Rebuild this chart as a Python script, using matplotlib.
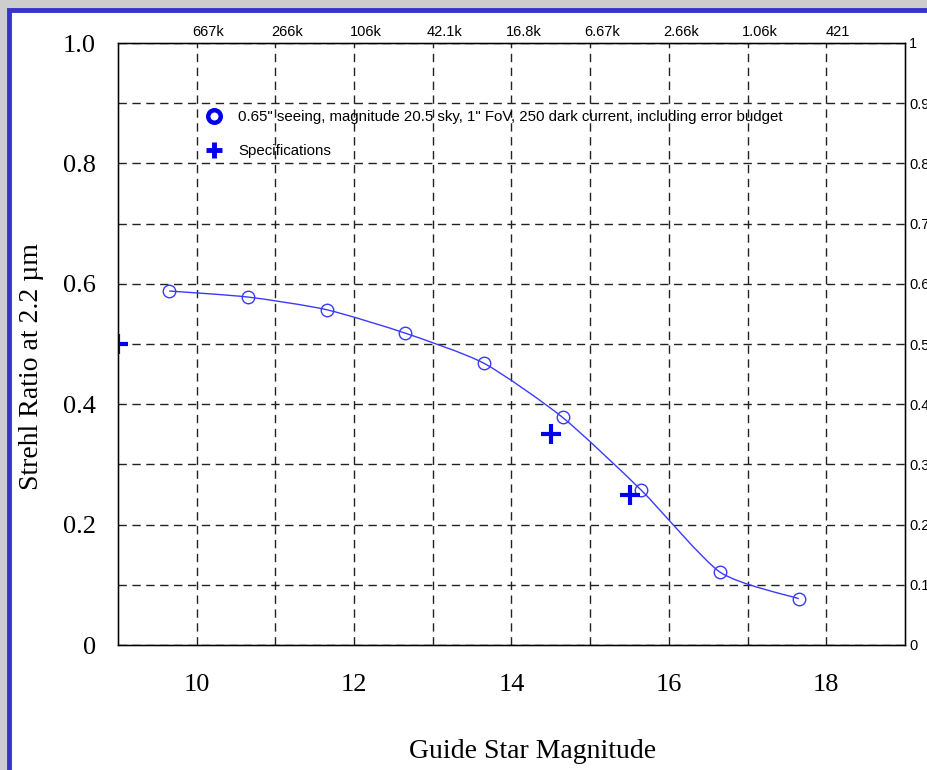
import numpy as np
import matplotlib
matplotlib.use("Agg")
import matplotlib.pyplot as plt
from matplotlib.path import Path
from matplotlib.patches import PathPatch, Rectangle
from matplotlib.lines import Line2D

# Data
mag = [9.65, 10.65, 11.65, 12.65, 13.65, 14.65, 15.65, 16.65, 17.65]
strehl = [0.588, 0.578, 0.557, 0.518, 0.468, 0.378, 0.257, 0.121, 0.077]
spec_mag = [9.0, 14.5, 15.5]
spec_strehl = [0.50, 0.35, 0.25]
photons = ['667k', '266k', '106k', '42.1k', '16.8k', '6.67k', '2.66k', '1.06k', '421']
legend_labels = ['0.65" seeing, magnitude 20.5 sky, 1" FoV, 250 dark current, including error budget',
                 'Specifications']

serif = ['Liberation Serif', 'DejaVu Serif']
sans = ['Liberation Sans', 'DejaVu Sans']
blue = '#3a3aff'

fig = plt.figure(figsize=(9.28, 7.7), dpi=100, facecolor='#cdcdcd')
# white page with blue frame, running off the right/bottom edges
fig.patches.append(Rectangle((9 / 928, -0.05), 1.1, 1 - 10 / 770 + 0.05,
                             transform=fig.transFigure, facecolor='white',
                             edgecolor='#3535cc', linewidth=3.5, zorder=-10))

ax = fig.add_axes([118 / 928, 125 / 770, 787 / 928, 602 / 770])
ax.set_xlim(9, 19)
ax.set_ylim(0, 1)

xt = list(range(10, 19))
ax.set_xticks(xt)
ax.set_xticklabels([str(v) if v % 2 == 0 else '' for v in xt], family=serif, fontsize=19)
yt = np.round(np.arange(0, 1.01, 0.1), 1)
ax.set_yticks(yt)
ylabs = []
for i, v in enumerate(yt):
    if i % 2:
        ylabs.append('')
    elif v == 0:
        ylabs.append('0')
    else:
        ylabs.append(f'{v:.1f}')
ax.set_yticklabels(ylabs, family=serif, fontsize=19)
ax.tick_params(axis='x', length=0, pad=21)
ax.tick_params(axis='y', length=0, pad=16)
ax.grid(True, color='#222222', linestyle=(0, (6, 4)), linewidth=1.0)
for s in ax.spines.values():
    s.set_linewidth(1.0)

# smooth curve through the points (loose Catmull-Rom -> cubic Bezier)
pts = np.column_stack([mag, strehl])
verts = [pts[0]]
codes = [Path.MOVETO]
for i in range(len(pts) - 1):
    p0 = pts[i - 1] if i > 0 else pts[i]
    p1 = pts[i]
    p2 = pts[i + 1]
    p3 = pts[i + 2] if i + 2 < len(pts) else pts[i + 1]
    c1 = p1 + (p2 - p0) / 9
    c2 = p2 - (p3 - p1) / 9
    verts += [c1, c2, p2]
    codes += [Path.CURVE4] * 3
ax.add_patch(PathPatch(Path(verts, codes), facecolor='none', edgecolor=blue, linewidth=1.0, zorder=3))
ax.plot(mag, strehl, linestyle='none', marker='o', markersize=9, markerfacecolor='none',
        markeredgecolor=blue, markeredgewidth=1.0, zorder=4)
ax.plot(spec_mag, spec_strehl, linestyle='none', marker='+', markersize=14,
        markeredgewidth=3, color='#0000ee', zorder=5, clip_on=True)

handles = [Line2D([], [], linestyle='none', marker='o', markersize=9, markerfacecolor='none',
                  markeredgecolor='#0000ee', markeredgewidth=3.2),
           Line2D([], [], linestyle='none', marker='+', markersize=11, markeredgewidth=3.5,
                  color='#0000ee')]
ax.legend(handles, legend_labels, loc='upper left', bbox_to_anchor=(0.1105, 0.888),
          frameon=False, handlelength=1.2, handletextpad=1.0, labelspacing=1.3,
          borderpad=0, borderaxespad=0, prop={'family': sans, 'size': 10.8})

# top axis: photon counts
axt = ax.twiny()
axt.set_xlim(ax.get_xlim())
axt.set_xticks([v + 0.15 for v in xt])
axt.set_xticklabels(photons, family=sans, fontsize=10.5)
axt.tick_params(axis='x', length=0, pad=3)

# right axis
axr = ax.twinx()
axr.set_ylim(ax.get_ylim())
axr.set_yticks(yt)
axr.set_yticklabels(['0' if v == 0 else ('1' if v == 1 else f'{v:.1f}') for v in yt],
                    family=sans, fontsize=10.5)
axr.tick_params(axis='y', length=0, pad=3)

fig.text(533 / 928, 1 - 752 / 770, 'Guide Star Magnitude', family=serif, fontsize=20,
         ha='center', va='center')
fig.text(32 / 928, 1 - 367 / 770, 'Strehl Ratio at 2.2 \u00b5m', family=serif, fontsize=20,
         ha='center', va='center', rotation=90)

fig.savefig('out.png', dpi=100, facecolor=fig.get_facecolor())
